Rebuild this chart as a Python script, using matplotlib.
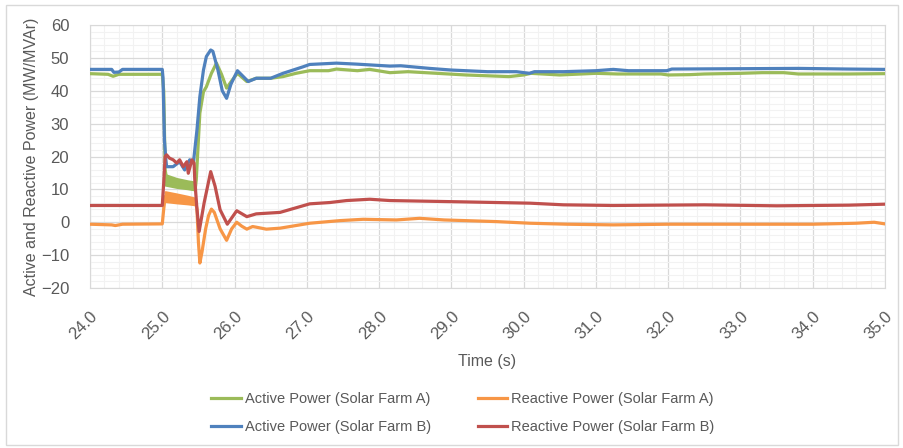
import numpy as np
import matplotlib
matplotlib.use("Agg")
import matplotlib.pyplot as plt
from matplotlib.patches import Rectangle
from matplotlib.ticker import MultipleLocator

plt.rcParams['font.family'] = ['Liberation Sans Narrow', 'Liberation Sans', 'DejaVu Sans']

# ---- data ----
# Active Power (Solar Farm A)
t_pa = [24.0, 24.25, 24.32, 24.4, 24.5, 25.0, 25.02, 25.04, 25.06, 25.2, 25.35, 25.46,
        25.47, 25.50, 25.52, 25.57, 25.61, 25.68, 25.75, 25.82, 25.89, 25.96, 26.04,
        26.17, 26.30, 26.5, 26.67, 26.85, 27.04, 27.3, 27.41, 27.7, 27.87, 28.15, 28.4,
        28.8, 29.2, 29.8, 30.0, 30.1, 30.5, 31.0, 31.3, 31.9, 32.0, 32.3, 32.5, 33.0,
        33.3, 33.6, 33.8, 34.5, 35.0]
p_a = [45.2, 45.0, 44.4, 45.0, 45.0, 45.0, 40.0, 16.0, 13.0, 12.0, 11.4, 11.0,
       12.8, 25.0, 33.2, 39.7, 41.2, 45.3, 48.4, 45.0, 40.8, 43.0, 45.3,
       42.8, 43.8, 43.8, 44.3, 45.3, 46.1, 46.1, 46.6, 46.1, 46.5, 45.5, 45.8,
       45.3, 44.8, 44.3, 44.8, 45.3, 44.8, 45.3, 45.1, 45.1, 44.8, 44.9, 45.1, 45.3,
       45.5, 45.5, 45.1, 45.1, 45.2]
band_t_a = [25.04, 25.2, 25.35, 25.46]
band_pa_hi = [14.5, 13.3, 12.6, 12.2]
band_pa_lo = [11.3, 10.6, 10.2, 9.8]

# Reactive Power (Solar Farm A)
t_qa = [24.0, 24.3, 24.35, 24.45, 25.0, 25.02, 25.04, 25.2, 25.35, 25.46, 25.48,
        25.50, 25.52, 25.55, 25.6, 25.64, 25.68, 25.72, 25.8, 25.89, 25.96, 26.03,
        26.1, 26.17, 26.25, 26.3, 26.44, 26.63, 26.85, 27.04, 27.46, 27.78, 28.24,
        28.56, 28.9, 29.62, 30.09, 30.6, 31.24, 32.0, 33.0, 34.0, 34.6, 34.85, 35.0]
q_a = [-0.6, -0.8, -1.0, -0.6, -0.5, 4.0, 7.8, 7.3, 6.8, 6.3, 4.0,
       -6.0, -12.4, -9.0, -2.0, 2.0, 4.0, 3.0, -2.0, -5.5, -2.0, 0.0,
       -1.2, -2.1, -1.3, -1.5, -2.1, -1.8, -1.0, -0.3, 0.5, 0.9, 0.7,
       1.2, 0.7, 0.2, -0.3, -0.6, -0.8, -0.6, -0.6, -0.6, -0.3, 0.0, -0.5]
band_qa_hi = [9.3, 8.6, 7.9, 7.3]
band_qa_lo = [6.3, 5.9, 5.6, 5.3]

# Active Power (Solar Farm B)
t_pb = [24.0, 24.3, 24.33, 24.4, 24.45, 25.0, 25.01, 25.03, 25.05, 25.06, 25.15,
        25.24, 25.31, 25.38, 25.43, 25.48, 25.52, 25.57, 25.61, 25.67, 25.70, 25.77,
        25.83, 25.89, 25.95, 26.04, 26.19, 26.30, 26.5, 26.67, 26.95, 27.04, 27.41,
        27.69, 28.15, 28.3, 28.7, 29.0, 29.5, 29.9, 30.08, 30.15, 30.55, 31.0, 31.24,
        31.45, 31.98, 32.05, 33.8, 34.5, 35.0]
p_b = [46.5, 46.5, 45.6, 45.7, 46.5, 46.5, 44.0, 25.0, 19.0, 16.9, 16.9,
       18.4, 15.9, 19.0, 18.0, 28.1, 38.2, 46.3, 50.4, 52.4, 52.0, 46.3,
       40.0, 37.7, 42.0, 46.1, 42.8, 43.8, 43.8, 45.3, 47.3, 48.0, 48.4,
       48.1, 47.5, 47.6, 46.8, 46.3, 45.8, 45.8, 45.3, 45.8, 45.8, 46.1, 46.5,
       46.1, 46.1, 46.6, 46.8, 46.6, 46.5]

# Reactive Power (Solar Farm B)
t_qb = [24.0, 25.0, 25.02, 25.04, 25.06, 25.10, 25.15, 25.20, 25.24, 25.29, 25.34,
        25.36, 25.41, 25.44, 25.45, 25.48, 25.51, 25.58, 25.67, 25.73, 25.80, 25.90,
        26.03, 26.17, 26.30, 26.63, 27.04, 27.32, 27.55, 27.87, 28.01, 28.15, 29.16,
        30.09, 30.55, 31.24, 32.5, 33.5, 34.5, 35.0]
q_b = [5.1, 5.1, 12.0, 20.0, 20.5, 19.5, 19.0, 18.0, 19.0, 16.9, 18.4,
       14.9, 19.0, 18.0, 12.8, 4.0, -2.8, 6.0, 15.4, 11.0, 3.8, -0.6,
       3.5, 1.7, 2.55, 3.0, 5.6, 6.0, 6.6, 7.0, 6.8, 6.6, 6.2,
       5.8, 5.3, 5.1, 5.3, 5.0, 5.2, 5.5]

green = '#9bbb59'
orange = '#f79646'
blue = '#4f81bd'
red = '#c0504d'
txt = '#595959'

fig = plt.figure(figsize=(9.04, 4.48), dpi=100)
fig.patches.append(Rectangle((6 / 904, 3 / 448), 892 / 904, 440 / 448, transform=fig.transFigure,
                             fill=False, edgecolor='#d9d9d9', lw=1))
ax = fig.add_axes([90 / 904, 1 - 288 / 448, 795 / 904, 263 / 448])

lw = 2.3
ax.fill_between(band_t_a, band_pa_lo, band_pa_hi, color=green, lw=1.5, zorder=3)
ax.fill_between(band_t_a, band_qa_lo, band_qa_hi, color=orange, lw=1.5, zorder=3)
l1, = ax.plot(t_pa, p_a, color=green, lw=lw, zorder=3)
l2, = ax.plot(t_qa, q_a, color=orange, lw=lw, zorder=3)
l3, = ax.plot(t_pb, p_b, color=blue, lw=lw, zorder=4)
l4, = ax.plot(t_qb, q_b, color=red, lw=lw, zorder=5)

ax.set_xlim(24, 35)
ax.set_ylim(-20, 60)
ax.xaxis.set_major_locator(MultipleLocator(1))
ax.xaxis.set_minor_locator(MultipleLocator(0.2))
ax.yaxis.set_major_locator(MultipleLocator(10))
ax.yaxis.set_minor_locator(MultipleLocator(2))
ax.grid(which='major', color='#d9d9d9', lw=0.9)
ax.grid(which='minor', color='#f2f2f2', lw=0.8)
ax.set_axisbelow(True)
for s in ax.spines.values():
    s.set_color('#d9d9d9')
ax.tick_params(which='both', length=0, colors=txt, labelsize=12)
ax.tick_params(axis='y', pad=15)
ax.set_xticks(np.arange(24, 35.5, 1))
ax.set_xticklabels([f'{v:.1f}' for v in np.arange(24, 35.5, 1)], rotation=45,
                   ha='right', va='top', rotation_mode='anchor')
ax.tick_params(axis='x', pad=15)
ax.set_ylabel('Active and Reactive Power (MW/MVAr)', color=txt, fontsize=11.5, labelpad=1)
ax.set_xlabel('Time (s)', color=txt, fontsize=11.5, labelpad=8)

fig.legend([l1, l3, l2, l4],
           ['Active Power (Solar Farm A)', 'Active Power (Solar Farm B)',
            'Reactive Power (Solar Farm A)', 'Reactive Power (Solar Farm B)'],
           loc='center', bbox_to_anchor=(463 / 904, 1 - 413 / 448), ncol=2, frameon=False,
           fontsize=10.5, labelcolor=txt, handlelength=2.0, handletextpad=0.3,
           columnspacing=3.2, labelspacing=1.0)

fig.savefig('out.png', dpi=100)
